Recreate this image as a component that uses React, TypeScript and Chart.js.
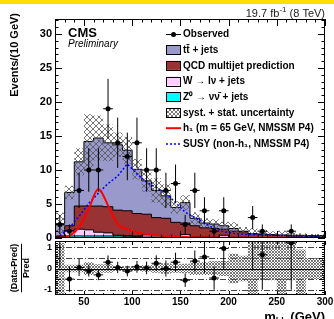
import React, { useEffect, useRef } from "react";
import { Chart, registerables } from "chart.js";

Chart.register(...registerables);

const FONT = '"Liberation Sans", Arial, Helvetica, sans-serif';

// ---------------- data ----------------
const binCenters = [25, 35, 45, 55, 65, 75, 85, 95, 105, 115, 125, 135, 145, 155, 165, 175, 185, 195, 205, 215, 225, 235, 245, 255, 265, 275, 285, 295];
const binWidth = 10;
const xRange = [20, 300];

const observed = [2, 1, 7, 10, 10, 19, 14, 12, 14, 10, 10, 7, 8, 2, 7, 4, 1, 4, 0, 0, 3, 1, 0, 0, 1, 0, 0, 0];
const observedErr = [1.4, 1.0, 2.6, 3.2, 3.2, 4.4, 3.7, 3.5, 3.7, 3.2, 3.2, 2.6, 2.8, 1.4, 2.6, 2.0, 1.0, 2.0, 0, 0, 1.7, 1.0, 0, 0, 1.0, 0, 0, 0];

const zNuNuJets = [0, 0.1, 0.3, 0.3, 0.3, 0.3, 0.3, 0.3, 0.25, 0.2, 0.15, 0.1, 0.1, 0.1, 0.05, 0.05, 0.03, 0.03, 0.03, 0.02, 0.02, 0.02, 0.02, 0.02, 0.02, 0.01, 0.01, 0.01];
const wLNuJets = [0.02, 0.1, 0.8, 1.0, 0.9, 0.55, 0.45, 0.1, 0.1, 0.1, 0.3, 0.2, 0.15, 0.1, 0.45, 0.15, 0.12, 0.07, 0.37, 0.08, 0.08, 0.08, 0.03, 0.03, 0.03, 0.04, 0.02, 0.02];
const qcdMultijet = [0.08, 0.1, 0.7, 3.4, 3.5, 3.85, 3.85, 3.7, 3.65, 3.3, 3.05, 2.7, 2.65, 2.1, 1.7, 1.6, 1.35, 1.3, 0.9, 0.9, 0.8, 0.5, 0.45, 0.35, 0.3, 0.25, 0.27, 0.22];
const ttJets = [0.6, 1.8, 4.9, 6.5, 9.5, 10.0, 9.4, 9.6, 8.9, 6.5, 4.9, 4.0, 3.3, 2.2, 3.0, 1.1, 0.7, 0.65, 0.5, 0.4, 0.1, 0.05, 0.1, 0.1, 0.1, 0.1, 0.1, 0.1];
const systErr = [0.5, 1.6, 1.0, 2.0, 4.0, 3.3, 2.7, 1.8, 2.0, 1.5, 1.6, 1.8, 1.7, 0.9, 1.1, 0.9, 0.7, 0.7, 0.6, 0.9, 0.6, 0.8, 0.6, 0.5, 0.6, 0.4, 0.3, 0.25];

const h1Signal = [0, 0.3, 1.6, 4.3, 7.2, 4.8, 2.0, 1.3, 0.8, 0.6, 0.4, 0.3, 0.22, 0.15, 0.1, 0.08, 0.06, 0.05, 0.04, 0.03, 0.03, 0.02, 0.02, 0.02, 0.01, 0.01, 0.01, 0.01];
const susySignal = [0.3, 1.5, 3.2, 5.1, 6.6, 8.0, 9.1, 10.9, 9.4, 8.2, 7.4, 6.6, 5.2, 3.8, 3.0, 2.2, 1.4, 0.9, 0.7, 0.55, 0.5, 0.45, 0.4, 0.35, 0.35, 0.3, 0.3, 0.25];

const ratioVals = [1.9, -0.5, 0.05, -0.1, -0.3, 0.3, 0.05, -0.12, 0.08, 0.03, 0.25, 0.0, 0.3, -0.55, 0.35, 0.55, -0.45, 0.95, null, null, 2.0, 0.65, null, null, 1.2, null, null, null];
const ratioErr = [1.9, 0.6, 0.4, 0.28, 0.25, 0.32, 0.27, 0.25, 0.28, 0.3, 0.37, 0.38, 0.45, 0.32, 0.5, 0.75, 0.55, 0.98, 0, 0, 2.1, 1.65, 0, 0, 2.2, 0, 0, 0];
const ratioBandLo = [-0.65, -1.25, -0.18, -0.18, -0.3, -0.2, -0.2, -0.12, -0.12, -0.12, -0.15, -0.2, -0.25, -0.2, -0.22, -0.3, -0.3, -0.3, -0.35, -0.7, -0.6, -1.25, -0.55, -0.55, -1.25, -0.55, -1.25, -0.5];
const ratioBandHi = [0.7, 1.2, 0.18, 0.18, 0.3, 0.2, 0.2, 0.12, 0.12, 0.12, 0.15, 0.2, 0.25, 0.2, 0.22, 0.3, 0.3, 0.35, 0.35, 0.7, 0.6, 1.3, 1.3, 1.3, 1.3, 1.3, 0.9, 0.5];

const mainYRange = [0, 32.2];
const ratioYRange = [-1.25, 1.3];
const mainYTicks = [0, 5, 10, 15, 20, 25, 30];
const mainYTickLabels = ["0", "5", "10", "15", "20", "25", "30"];
const ratioYTicks = [-1, -0.5, 0, 0.5, 1];
const ratioYTickLabels = ["-1", "-0.5", "0", "0.5", "1"];
const xTicks = [50, 100, 150, 200, 250, 300];
const xTickLabels = ["50", "100", "150", "200", "250", "300"];

const legendLabels = [
  "Observed",
  "tt\u0304 + jets",
  "QCD multijet prediction",
  "W \u2192 l\u03bd + jets",
  "Z\u2070 \u2192 \u03bd\u03bd\u0304 + jets",
  "syst. + stat. uncertainty",
  "h\u2081 (m = 65 GeV, NMSSM P4)",
  "SUSY (non-h\u2081, NMSSM P4)",
];

// ---------------- styles ----------------
const C_TT = "#9999cc";
const C_QCD = "#993333";
const C_W = "#ffccff";
const C_Z = "#00ffff";

function makeHatch(color: string, size: number, lw: number) {
  const c = document.createElement("canvas");
  c.width = size;
  c.height = size;
  const g = c.getContext("2d")!;
  g.strokeStyle = color;
  g.lineWidth = lw;
  g.beginPath();
  g.moveTo(0, 0);
  g.lineTo(size, size);
  g.moveTo(size, 0);
  g.lineTo(0, size);
  g.stroke();
  return g.createPattern(c, "repeat")!;
}

function steps(vals: number[]) {
  const pts = binCenters.map((c, i) => ({ x: c - binWidth / 2, y: vals[i] }));
  const n = binCenters.length - 1;
  pts.push({ x: binCenters[n] + binWidth / 2, y: vals[n] });
  return pts;
}

function cumulative(...series: number[][]) {
  return binCenters.map((_, i) => series.reduce((s, a) => s + a[i], 0));
}

function drawTicks(ctx: CanvasRenderingContext2D, a: any, xs: any, ys: any, xVals: number[], xMaj: (v: number) => boolean, yVals: number[], yMaj: (v: number) => boolean, xl: number[], yl: number[]) {
  ctx.save();
  ctx.strokeStyle = "#000";
  ctx.lineWidth = 1;
  ctx.beginPath();
  for (const v of xVals) {
    const px = Math.round(xs.getPixelForValue(v)) + 0.5;
    const L = xMaj(v) ? xl[0] : xl[1];
    ctx.moveTo(px, a.bottom);
    ctx.lineTo(px, a.bottom - L);
    ctx.moveTo(px, a.top);
    ctx.lineTo(px, a.top + L);
  }
  for (const v of yVals) {
    const py = Math.round(ys.getPixelForValue(v)) + 0.5;
    const L = yMaj(v) ? yl[0] : yl[1];
    ctx.moveTo(a.left, py);
    ctx.lineTo(a.left + L, py);
    ctx.moveTo(a.right, py);
    ctx.lineTo(a.right - L, py);
  }
  ctx.stroke();
  ctx.strokeRect(a.left + 0.5, a.top + 0.5, a.right - a.left - 1, a.bottom - a.top - 1);
  ctx.restore();
}

function xTickValues() {
  const out: number[] = [];
  for (let v = xRange[0]; v <= xRange[1]; v += binWidth) out.push(v);
  return out;
}

function drawErrorBars(ctx: CanvasRenderingContext2D, chart: any, vals: (number | null)[], errs: number[]) {
  const { chartArea: a, scales } = chart;
  const x = scales.x;
  const y = scales.y;
  ctx.save();
  ctx.beginPath();
  ctx.rect(a.left, a.top, a.right - a.left, a.bottom - a.top);
  ctx.clip();
  ctx.strokeStyle = "#000";
  ctx.lineWidth = 1;
  ctx.beginPath();
  binCenters.forEach((c, i) => {
    const v = vals[i];
    if (v === null || v === undefined) return;
    const e = errs[i];
    const px = x.getPixelForValue(c);
    ctx.moveTo(px, y.getPixelForValue(v - e));
    ctx.lineTo(px, y.getPixelForValue(v + e));
    const py = y.getPixelForValue(v);
    ctx.moveTo(x.getPixelForValue(c - binWidth / 2), py);
    ctx.lineTo(x.getPixelForValue(c + binWidth / 2), py);
  });
  ctx.stroke();
  ctx.restore();
}

function drawRotated(ctx: CanvasRenderingContext2D, text: string, x: number, y: number, align: CanvasTextAlign) {
  ctx.save();
  ctx.translate(x, y);
  ctx.rotate(-Math.PI / 2);
  ctx.textAlign = align;
  ctx.textBaseline = "middle";
  ctx.fillText(text, 0, 0);
  ctx.restore();
}

export default function App() {
  const mainRef = useRef<HTMLCanvasElement>(null);
  const ratioRef = useRef<HTMLCanvasElement>(null);

  useEffect(() => {
    Chart.defaults.font.family = FONT;
    const hatchMain = makeHatch("#555", 6, 0.8);
    const hatchRatio = makeHatch("#555", 3, 0.8);
    const hatchLegend = makeHatch("#555", 4, 0.8);

    const obsMain = observed.map((v) => (v > 0 ? v : null));
    const topZ = cumulative(zNuNuJets);
    const topW = cumulative(zNuNuJets, wLNuJets);
    const topQ = cumulative(zNuNuJets, wLNuJets, qcdMultijet);
    const topT = cumulative(zNuNuJets, wLNuJets, qcdMultijet, ttJets);
    const bandUp = topT.map((v, i) => v + systErr[i]);
    const bandDn = topT.map((v, i) => Math.max(v - systErr[i], 0));

    const stackDs = (vals: number[], color: string) => ({
      data: steps(vals),
      stepped: "after",
      fill: "origin",
      backgroundColor: color,
      borderColor: "#000",
      borderWidth: 1,
      pointRadius: 0,
    });

    const mainPlugin = {
      id: "mainDecor",
      beforeDatasetDraw(chart: any, args: any) {
        if (args.index !== 0) return;
        drawErrorBars(chart.ctx, chart, obsMain, observedErr);
      },
      afterDraw(chart: any) {
        const { ctx, chartArea: a, scales } = chart;
        const xv = xTickValues();
        const yv: number[] = [];
        for (let v = 0; v <= Math.floor(mainYRange[1]); v++) yv.push(v);
        drawTicks(ctx, a, scales.x, scales.y, xv, (v) => v % 50 === 0, yv, (v) => v % 5 === 0, [7, 3.5], [7, 3.5]);

        ctx.save();
        ctx.fillStyle = "#000";
        // lumi
        ctx.textBaseline = "alphabetic";
        ctx.textAlign = "left";
        const f1 = `11px ${FONT}`;
        const f2 = `8px ${FONT}`;
        ctx.font = f1;
        const w1 = ctx.measureText("19.7 fb").width;
        const w3 = ctx.measureText(" (8 TeV)").width;
        ctx.font = f2;
        const w2 = ctx.measureText("-1").width;
        let sx = a.right - (w1 + w2 + w3);
        ctx.fillStyle = "#222";
        ctx.font = f1;
        ctx.fillText("19.7 fb", sx, 17);
        ctx.font = f2;
        ctx.fillText("-1", sx + w1, 12);
        ctx.font = f1;
        ctx.fillText(" (8 TeV)", sx + w1 + w2, 17);
        ctx.fillStyle = "#000";

        // CMS
        ctx.font = `bold 13px ${FONT}`;
        ctx.fillText("CMS", 68, 37);
        ctx.font = `italic 10px ${FONT}`;
        ctx.fillText("Preliminary", 68, 47);

        // y title
        ctx.font = `bold 11px ${FONT}`;
        drawRotated(ctx, "Events/(10 GeV)", 15, 13, "right");

        // legend
        const lx = 166, lw = 15, tx = 183, top = 34, step = 15.7, bh = 9;
        ctx.font = `bold 10px ${FONT}`;
        ctx.textBaseline = "middle";
        legendLabels.forEach((lab, i) => {
          const cy = top + i * step;
          ctx.save();
          if (i === 0) {
            ctx.strokeStyle = "#000";
            ctx.lineWidth = 1;
            ctx.beginPath();
            ctx.moveTo(lx, cy + 0.5);
            ctx.lineTo(lx + lw, cy + 0.5);
            ctx.stroke();
            ctx.beginPath();
            ctx.arc(lx + lw / 2, cy + 0.5, 2.5, 0, Math.PI * 2);
            ctx.fillStyle = "#000";
            ctx.fill();
          } else if (i >= 1 && i <= 5) {
            const fills = [C_TT, C_QCD, C_W, C_Z, "#fff"];
            ctx.fillStyle = fills[i - 1];
            ctx.fillRect(lx, cy - bh / 2, lw, bh);
            if (i === 5) {
              ctx.fillStyle = hatchLegend;
              ctx.fillRect(lx, cy - bh / 2, lw, bh);
            }
            ctx.strokeStyle = "#000";
            ctx.lineWidth = 1;
            ctx.strokeRect(lx + 0.5, Math.round(cy - bh / 2) + 0.5, lw - 1, bh);
          } else if (i === 6) {
            ctx.strokeStyle = "#ff0000";
            ctx.lineWidth = 2;
            ctx.beginPath();
            ctx.moveTo(lx, cy);
            ctx.lineTo(lx + lw, cy);
            ctx.stroke();
          } else {
            ctx.strokeStyle = "#0000ff";
            ctx.lineWidth = 1.5;
            ctx.setLineDash([2, 2]);
            ctx.beginPath();
            ctx.moveTo(lx, cy);
            ctx.lineTo(lx + lw, cy);
            ctx.stroke();
          }
          ctx.restore();
          ctx.fillStyle = "#000";
          ctx.fillText(lab, tx, cy + 0.5);
        });
        ctx.restore();
      },
    };

    const main = new Chart(mainRef.current!, {
      type: "line",
      data: {
        datasets: [
          {
            data: binCenters.map((c, i) => ({ x: c, y: obsMain[i] })),
            showLine: false,
            pointRadius: 2.5,
            pointBackgroundColor: "#000",
            pointBorderWidth: 0,
            borderColor: "#000",
          },
          {
            data: binCenters.map((c, i) => ({ x: c, y: h1Signal[i] })),
            borderColor: "#ff0000",
            borderWidth: 2,
            cubicInterpolationMode: "monotone",
            pointRadius: 0,
            fill: false,
          },
          {
            data: binCenters.map((c, i) => ({ x: c, y: susySignal[i] })),
            borderColor: "#0000ff",
            borderWidth: 1.5,
            borderDash: [2, 2],
            pointRadius: 0,
            fill: false,
          },
          {
            data: steps(bandUp),
            stepped: "after",
            fill: "+1",
            backgroundColor: hatchMain,
            borderColor: "transparent",
            borderWidth: 0,
            pointRadius: 0,
          },
          {
            data: steps(bandDn),
            stepped: "after",
            fill: false,
            borderColor: "transparent",
            borderWidth: 0,
            pointRadius: 0,
          },
          stackDs(topZ, C_Z),
          stackDs(topW, C_W),
          stackDs(topQ, C_QCD),
          stackDs(topT, C_TT),
        ] as any,
      },
      options: {
        animation: false,
        responsive: false,
        devicePixelRatio: 1,
        events: [],
        layout: { padding: { left: 15, right: 9, top: 19, bottom: 81 } },
        plugins: { legend: { display: false }, tooltip: { enabled: false } },
        scales: {
          x: { type: "linear", min: xRange[0], max: xRange[1], display: false },
          y: {
            type: "linear",
            min: mainYRange[0],
            max: mainYRange[1],
            grid: { display: false, drawTicks: false },
            border: { display: false },
            ticks: {
              font: { family: FONT, size: 11, weight: "bold" },
              color: "#000",
              padding: 3,
              callback: (_v: any, i: number) => mainYTickLabels[i],
            },
            afterBuildTicks: (s: any) => {
              s.ticks = mainYTicks.map((v) => ({ value: v }));
            },
            afterFit: (s: any) => {
              s.width = 40;
              s.paddingTop = 0;
              s.paddingBottom = 0;
            },
          },
        },
      } as any,
      plugins: [mainPlugin as any],
    });

    const ratioPlugin = {
      id: "ratioDecor",
      beforeDatasetsDraw(chart: any) {
        const { ctx, chartArea: a, scales } = chart;
        ctx.save();
        ctx.strokeStyle = "#444";
        ctx.lineWidth = 1;
        ctx.setLineDash([6, 2, 1, 2]);
        for (const v of [1, 0.5, -0.5, -1]) {
          const py = Math.round(scales.y.getPixelForValue(v)) + 0.5;
          ctx.beginPath();
          ctx.moveTo(a.left, py);
          ctx.lineTo(a.right, py);
          ctx.stroke();
        }
        ctx.restore();
      },
      beforeDatasetDraw(chart: any, args: any) {
        if (args.index !== 0) return;
        const { ctx, chartArea: a, scales } = chart;
        ctx.save();
        ctx.strokeStyle = "#000";
        ctx.lineWidth = 1;
        const py = Math.round(scales.y.getPixelForValue(0)) + 0.5;
        ctx.beginPath();
        ctx.moveTo(a.left, py);
        ctx.lineTo(a.right, py);
        ctx.stroke();
        ctx.restore();
        drawErrorBars(ctx, chart, ratioVals, ratioErr);
      },
      afterDraw(chart: any) {
        const { ctx, chartArea: a, scales } = chart;
        const xv = xTickValues();
        const yv: number[] = [];
        for (let k = -12; k <= 13; k++) yv.push(k / 10);
        drawTicks(ctx, a, scales.x, scales.y, xv, (v) => v % 50 === 0, yv, (v) => Math.abs((v * 10) % 5) < 1e-6, [4, 2], [6, 3]);

        ctx.save();
        ctx.fillStyle = "#000";
        // y title as fraction
        ctx.font = `bold 9px ${FONT}`;
        const cy = (a.top + a.bottom) / 2;
        const num = "(Data-Pred)";
        const wn = ctx.measureText(num).width;
        drawRotated(ctx, num, 15, cy, "center");
        drawRotated(ctx, "Pred", 27, cy, "center");
        ctx.strokeStyle = "#000";
        ctx.lineWidth = 1;
        ctx.beginPath();
        ctx.moveTo(21.5, cy - wn / 2);
        ctx.lineTo(21.5, cy + wn / 2);
        ctx.stroke();

        // x title
        const fb = `bold 13px ${FONT}`;
        const fs = `bold 9px ${FONT}`;
        ctx.textAlign = "left";
        ctx.textBaseline = "alphabetic";
        ctx.font = fb;
        const m1 = ctx.measureText("m").width;
        const m3 = ctx.measureText(" (GeV)").width;
        ctx.font = fs;
        const m2 = ctx.measureText("bb").width;
        const sx = a.right - (m1 + m2 + m3);
        const base = 320.5;
        ctx.font = fb;
        ctx.fillText("m", sx, base);
        ctx.font = fs;
        ctx.fillText("bb", sx + m1, base + 3);
        ctx.font = fb;
        ctx.fillText(" (GeV)", sx + m1 + m2, base);
        ctx.restore();
      },
    };

    const ratio = new Chart(ratioRef.current!, {
      type: "line",
      data: {
        datasets: [
          {
            data: binCenters.map((c, i) => ({ x: c, y: ratioVals[i] })),
            showLine: false,
            pointRadius: 2.5,
            pointBackgroundColor: "#000",
            pointBorderWidth: 0,
            borderColor: "#000",
          },
          {
            data: steps(ratioBandHi),
            stepped: "after",
            fill: "+1",
            backgroundColor: hatchRatio,
            borderColor: "transparent",
            borderWidth: 0,
            pointRadius: 0,
          },
          {
            data: steps(ratioBandLo),
            stepped: "after",
            fill: false,
            borderColor: "transparent",
            borderWidth: 0,
            pointRadius: 0,
          },
        ] as any,
      },
      options: {
        animation: false,
        responsive: false,
        devicePixelRatio: 1,
        events: [],
        layout: { padding: { left: 15, right: 9, top: 241, bottom: 10 } },
        plugins: { legend: { display: false }, tooltip: { enabled: false } },
        scales: {
          x: {
            type: "linear",
            min: xRange[0],
            max: xRange[1],
            grid: { display: false, drawTicks: false },
            border: { display: false },
            ticks: {
              font: { family: FONT, size: 10, weight: "bold" },
              color: "#000",
              padding: 1,
              autoSkip: false,
              maxRotation: 0,
              callback: (_v: any, i: number) => xTickLabels[i],
            },
            afterBuildTicks: (s: any) => {
              s.ticks = xTicks.map((v) => ({ value: v }));
            },
            afterFit: (s: any) => {
              s.height = 14;
              s.paddingLeft = 0;
              s.paddingRight = 0;
            },
          },
          y: {
            type: "linear",
            min: ratioYRange[0],
            max: ratioYRange[1],
            grid: { display: false, drawTicks: false },
            border: { display: false },
            ticks: {
              font: { family: FONT, size: 9, weight: "bold" },
              color: "#000",
              padding: 3,
              callback: (_v: any, i: number) => ratioYTickLabels[i],
            },
            afterBuildTicks: (s: any) => {
              s.ticks = ratioYTicks.map((v) => ({ value: v }));
            },
            afterFit: (s: any) => {
              s.width = 40;
              s.paddingTop = 0;
              s.paddingBottom = 0;
            },
          },
        },
      } as any,
      plugins: [ratioPlugin as any],
    });

    return () => {
      main.destroy();
      ratio.destroy();
    };
  }, []);

  return (
    <div style={{ position: "absolute", left: 0, top: 0, width: 334, height: 319, background: "#fff", overflow: "hidden" }}>
      <div style={{ position: "absolute", left: 0, top: 0, width: 334, height: 4, background: "#ffde00" }} />
      <canvas ref={mainRef} width={334} height={319} style={{ position: "absolute", left: 0, top: 0 }} />
      <canvas ref={ratioRef} width={334} height={319} style={{ position: "absolute", left: 0, top: 0 }} />
    </div>
  );
}
